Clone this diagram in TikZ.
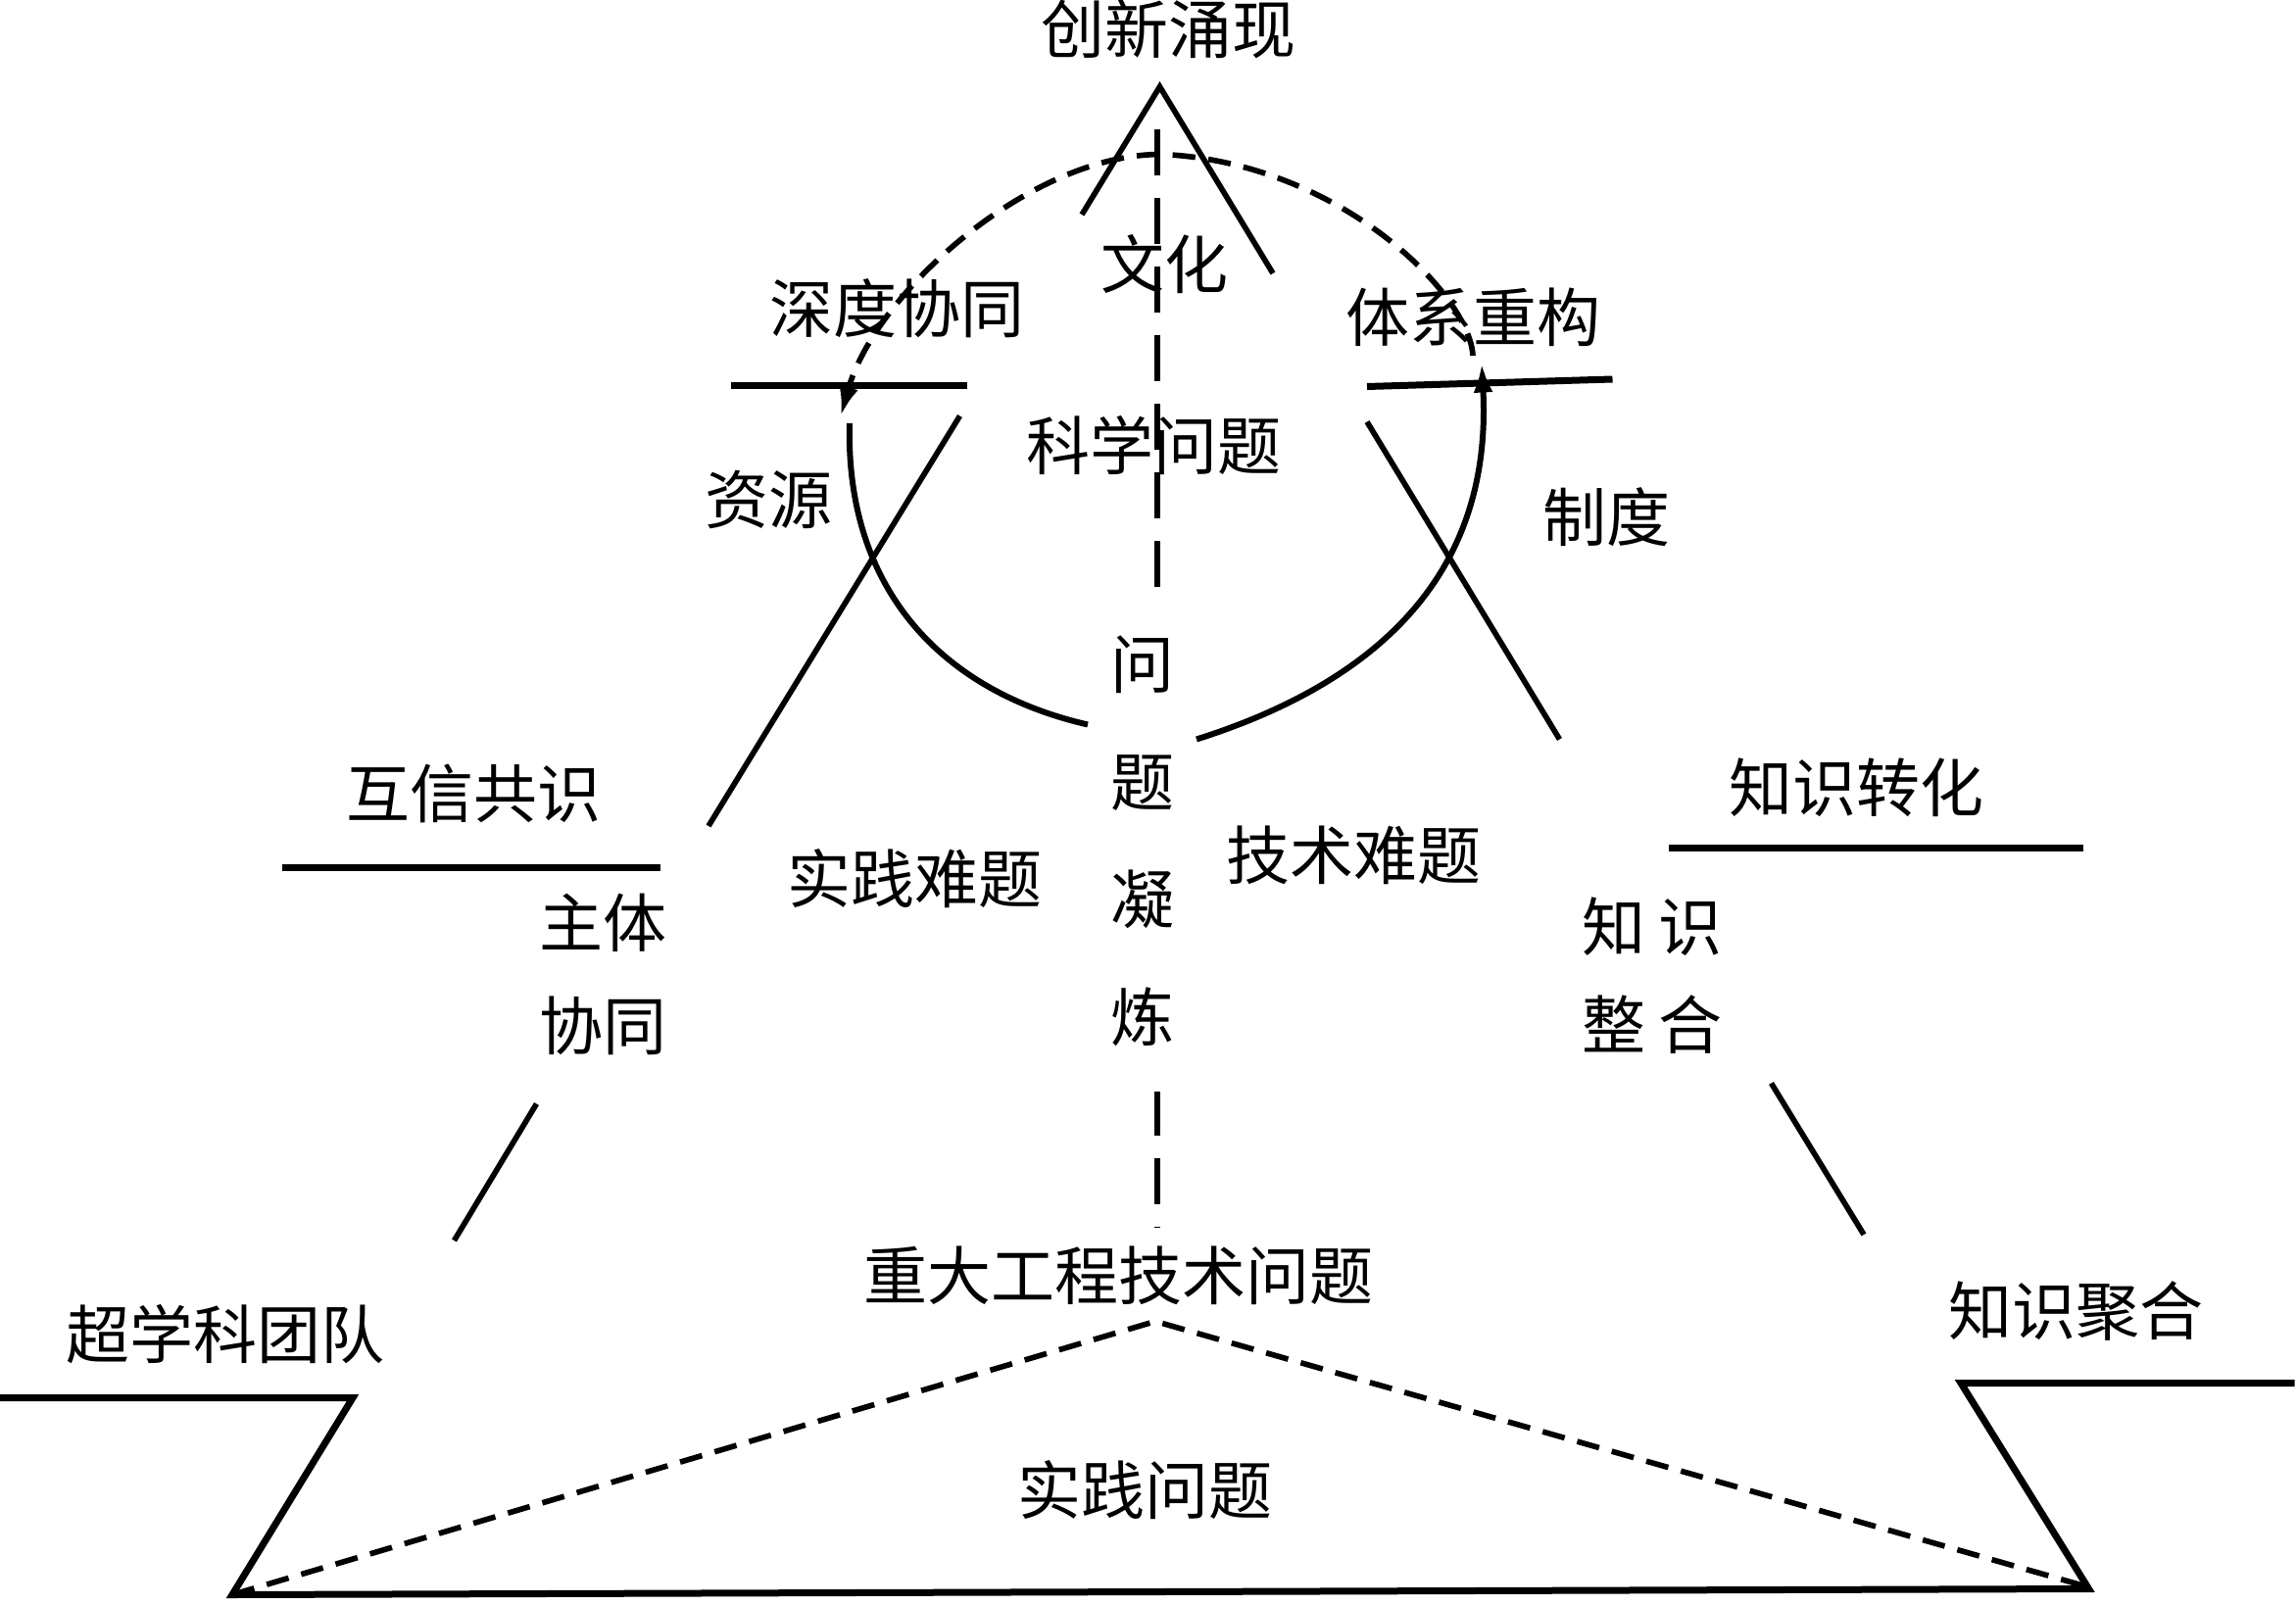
\documentclass[tikz,border=0pt]{standalone}
\usepackage{fontspec}
\setmainfont{Noto Sans CJK SC}
\usetikzlibrary{arrows.meta}
\begin{document}
\begin{tikzpicture}[x=0.45pt,y=-0.45pt,
  lbl/.style={inner sep=0pt, font=\fontsize{19.5}{23}\selectfont},
  bar/.style={line width=2.1pt},
  side/.style={line width=1.7pt},
  loopline/.style={line width=1.8pt},
  dsh/.style={line width=1.7pt, dash pattern=on 7pt off 4pt},
  axisline/.style={line width=1.8pt, dash pattern=on 14pt off 7pt},
  tipend/.style={-{Latex[length=9pt,width=6pt]}}]
\useasboundingbox (0,0) rectangle (1562,1092);

% key points
\coordinate (apex) at (789,59);
\coordinate (apexL) at (736,146);
\coordinate (apexR) at (866,186);
\coordinate (topC) at (790,105);
\coordinate (arcL) at (572,283);
\coordinate (arcR) at (1002,242);
\coordinate (loopL) at (578,288);
\coordinate (loopLb) at (740,493);
\coordinate (loopRb) at (814,503);
\coordinate (loopR) at (1008,247);
\coordinate (axTop) at (787,88);
\coordinate (axBot) at (787,835);
\coordinate (triL) at (158,1085);
\coordinate (triT) at (786,899);
\coordinate (triR) at (1418,1079);

% vertical dashed axis
\draw[axisline] (axTop) -- (axBot);

% apex
\draw[side] (apexL) -- (apex) -- (apexR);

% dashed upper arc with arrow on the left end
\draw[dsh, tipend] (arcR) .. controls (1000,200) and (910,110) .. (topC)
  .. controls (700,105) and (595,200) .. (arcL);

% solid lower arcs
\draw[loopline] (loopL) .. controls (575,400) and (640,470) .. (loopLb);
\draw[loopline, tipend] (loopRb) .. controls (950,460) and (1015,380) .. (loopR);

% horizontal bars
\draw[bar] (497,262) -- (658,262);
\draw[bar] (930,263) -- (1097,258);
\draw[bar] (192,590) -- (449,590);
\draw[bar] (1135,577) -- (1417,577);

% side strokes
\draw[side] (653,283) -- (482,562);
\draw[side] (930,287) -- (1061,503);
\draw[side] (365,751) -- (309,844);
\draw[side] (1205,737) -- (1268,840);

% bottom frame
\draw[bar, line join=miter] (0,951) -- (240,951) -- (triL) -- (1421,1081) -- (1334,941) -- (1561,941);

% dashed inner triangle
\draw[dsh] (triL) -- (triT) -- (triR);

% labels
\node[lbl] (cxyx) at (795,20) {创新涌现};
\node[lbl] (wh) at (792,180) {文化};
\node[lbl] (sdxt) at (610,210) {深度协同};
\node[lbl] (txcg) at (1002,216) {体系重构};
\node[lbl] (kxwt) at (785,303) {科学问题};
\node[lbl] (zy) at (523,340) {资源};
\node[lbl] (zd) at (1093,352) {制度};
\node[lbl, align=center, fill=white, inner xsep=3pt, inner ysep=14pt,
      font=\fontsize{19.5}{36}\selectfont] (wtnl) at (777,572) {问\\题\\凝\\炼};
\node[lbl] (hxgs) at (322,540) {互信共识};
\node[lbl] (zszh) at (1263,536) {知识转化};
\node[lbl] (sjnt) at (622,598) {实践难题};
\node[lbl] (jsnt) at (921,582) {技术难题};
\node[lbl, align=center, font=\fontsize{19.5}{31.5}\selectfont] (ztxt) at (410,663) {主体\\协同};
\node[lbl, align=center, font=\fontsize{19.5}{30}\selectfont] (zszhh) at (1124,664) {知\hspace{4pt}识\\整\hspace{4pt}合};
\node[lbl] (zdgc) at (761,868) {重大工程技术问题};
\node[lbl] (cxkt) at (153,908) {超学科团队};
\node[lbl] (zsjh) at (1412,892) {知识聚合};
\node[lbl] (sjwt) at (779,1014) {实践问题};
\end{tikzpicture}
\end{document}
